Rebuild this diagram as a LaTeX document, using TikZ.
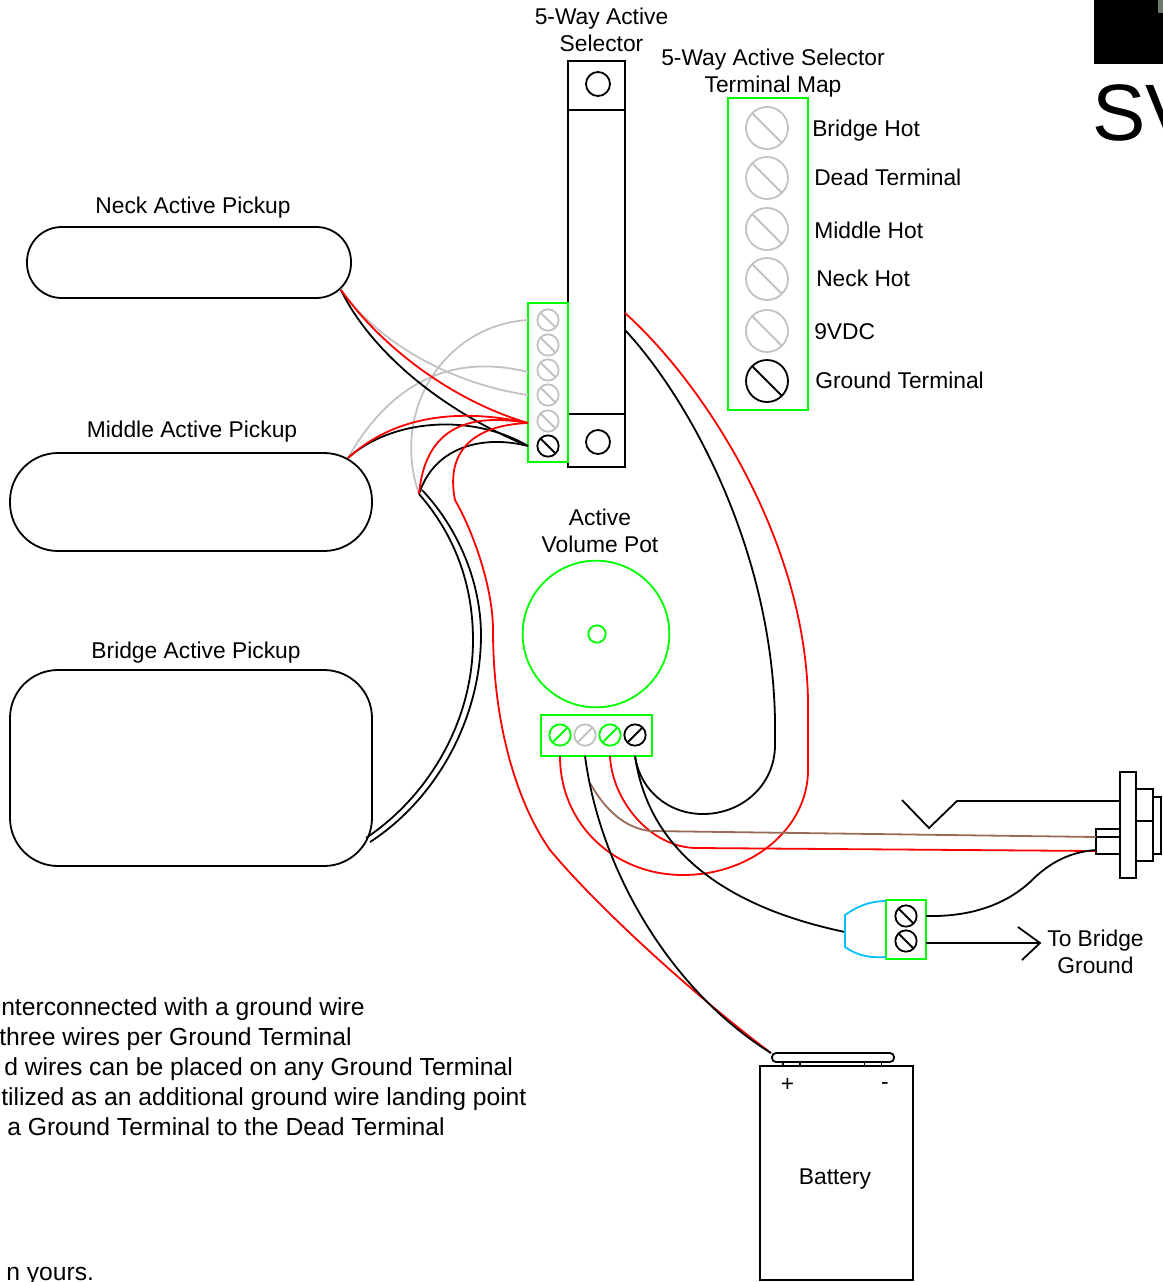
\documentclass[tikz,border=0pt]{standalone}
\usepackage{fontspec}
\setmainfont{Liberation Sans}

\definecolor{TermGreen}{rgb}{0.0,1.0,0.0}
\definecolor{TermGrey}{rgb}{0.76,0.76,0.76}
\definecolor{WireRed}{rgb}{1.0,0.0,0.0}
\definecolor{WireBrown}{rgb}{0.6,0.42,0.34}
\definecolor{WireBlue}{rgb}{0.0,0.75,1.0}
\definecolor{LogoGrey}{rgb}{0.42,0.48,0.42}

\tikzstyle{base}=[rectangle,
                    draw=black,
                    line width=1.35pt,
                    inner sep=0pt]
\tikzstyle{terminal}=[base, draw=TermGreen]
\tikzstyle{pickup}=[base]
\tikzstyle{label}=[inner sep=0pt,
                    align=center,
                    font=\fontsize{17.1}{20.2}\selectfont]
\tikzstyle{note}=[inner sep=0pt,
                    anchor=west,
                    text height=13pt,
                    text depth=4pt,
                    font=\fontsize{18.5}{21}\selectfont]
\tikzstyle{screw}=[circle, draw=black, line width=1.35pt, inner sep=0pt, minimum size=16pt]
\tikzstyle{screwback}=[screw, path picture={\draw[line width=1.35pt, draw=#1]
                    (path picture bounding box.north west) -- (path picture bounding box.south east);}]
\tikzstyle{screwfwd}=[screw, path picture={\draw[line width=1.35pt, draw=#1]
                    (path picture bounding box.north east) -- (path picture bounding box.south west);}]
\tikzstyle{wire}=[line width=1.35pt, draw=black]
\tikzstyle{redwire}=[wire, draw=WireRed]
\tikzstyle{greywire}=[wire, draw=TermGrey]

\begin{document}
\begin{tikzpicture}[x=0.75pt, y=-0.75pt]
      \useasboundingbox (0,0) rectangle (1163,1282);
      \clip (0,0) rectangle (1163,1282);

      % selector
      \node at (596.5, 264.0) (sel_body)   [base, minimum width=42.75pt, minimum height=304.5pt] {};
      \node at (596.5,  85.5) (sel_top)    [base, minimum width=42.75pt, minimum height=36.75pt] {};
      \node at (596.5, 440.5) (sel_bottom) [base, minimum width=42.75pt, minimum height=39.75pt] {};
      \node at (598.0,  84.0) (sel_hole_a) [screw, minimum size=18pt] {};
      \node at (598.0, 442.0) (sel_hole_b) [screw, minimum size=18pt] {};
      \node at (548.0, 382.5) (sel_term)   [terminal, minimum width=30pt, minimum height=119.25pt] {};
      \node at (548.0, 320.0) (sel_s1) [screwback=TermGrey, draw=TermGrey] {};
      \node at (548.0, 345.0) (sel_s2) [screwback=TermGrey, draw=TermGrey] {};
      \node at (548.0, 370.0) (sel_s3) [screwback=TermGrey, draw=TermGrey] {};
      \node at (548.0, 395.0) (sel_s4) [screwback=TermGrey, draw=TermGrey] {};
      \node at (548.0, 421.0) (sel_s5) [screwback=TermGrey, draw=TermGrey] {};
      \node at (548.0, 446.0) (sel_s6) [screwback=black] {};

      % terminal map
      \node at (768.0, 254.0) (map_box) [terminal, minimum width=60pt, minimum height=234pt] {};
      \node at (767.0, 128.0) (map_s1) [screwback=TermGrey, draw=TermGrey, minimum size=31.5pt] {};
      \node at (767.0, 178.0) (map_s2) [screwback=TermGrey, draw=TermGrey, minimum size=31.5pt] {};
      \node at (767.0, 229.0) (map_s3) [screwback=TermGrey, draw=TermGrey, minimum size=31.5pt] {};
      \node at (767.0, 279.0) (map_s4) [screwback=TermGrey, draw=TermGrey, minimum size=31.5pt] {};
      \node at (767.0, 331.0) (map_s5) [screwback=TermGrey, draw=TermGrey, minimum size=31.5pt] {};
      \node at (767.0, 381.0) (map_s6) [screwback=black, minimum size=31.5pt] {};
      \node at (812.0, 131.0) (map_l1) [label, anchor=west] {Bridge Hot};
      \node at (814.0, 177.0) (map_l2) [label, anchor=west] {Dead Terminal};
      \node at (814.0, 230.0) (map_l3) [label, anchor=west] {Middle Hot};
      \node at (816.0, 278.0) (map_l4) [label, anchor=west] {Neck Hot};
      \node at (814.0, 332.0) (map_l5) [label, anchor=west] {9VDC};
      \node at (815.0, 380.0) (map_l6) [label, anchor=west] {Ground Terminal};

      % pickups
      \node at (189.0, 262.5) (neck)   [pickup, rounded corners=26pt, minimum width=243pt, minimum height=53.25pt] {};
      \node at (191.0, 502.0) (middle) [pickup, rounded corners=36pt, minimum width=271.5pt, minimum height=73.5pt] {};
      \node at (191.0, 768.0) (bridge) [pickup, rounded corners=36pt, minimum width=271.5pt, minimum height=147pt] {};

      % pot
      \node at (596.0, 634.0) (pot)      [circle, draw=TermGreen, line width=1.35pt, inner sep=0pt, minimum size=110pt] {};
      \node at (597.0, 634.0) (pot_dot)  [circle, draw=TermGreen, line width=1.35pt, inner sep=0pt, minimum size=13pt] {};
      \node at (596.5, 735.5) (pot_term) [terminal, minimum width=83.25pt, minimum height=30.75pt] {};
      \node at (560.0, 735.0) (pot_s1) [screwfwd=TermGreen, draw=TermGreen] {};
      \node at (585.0, 735.0) (pot_s2) [screwfwd=TermGrey, draw=TermGrey] {};
      \node at (610.0, 735.0) (pot_s3) [screwfwd=TermGreen, draw=TermGreen] {};
      \node at (635.0, 735.0) (pot_s4) [screwfwd=black] {};

      % jack
      \node at (1128.0, 825.0) (jack_flange) [base, minimum width=12pt, minimum height=79.5pt] {};
      \node at (1144.5, 825.0) (jack_nut)    [base, minimum width=12.4pt, minimum height=54pt] {};
      \node at (1157.0, 825.5) (jack_end)    [base, minimum width=6pt, minimum height=42.75pt] {};
      \node at (1108.0, 841.5) (jack_lug)    [base, minimum width=18pt, minimum height=18.75pt] {};
      \draw[wire] (jack_nut.west |- 0,821) -- (jack_nut.east |- 0,821);
      \draw[wire] (jack_lug.west |- 0,837) -- (jack_lug.east |- 0,837);

      % ground block
      \node at (906.0, 929.5) (gnd_term) [terminal, minimum width=30pt, minimum height=44.25pt] {};
      \node at (906.0, 916.0) (gnd_s1) [screwback=black] {};
      \node at (906.0, 941.0) (gnd_s2) [screwback=black] {};

      % battery
      \node at (836.5, 1173.0) (battery)  [base, minimum width=114.75pt, minimum height=160.5pt] {};
      \node at (833.0, 1057.5) (bat_clip) [base, rounded corners=3pt, minimum width=91.5pt, minimum height=6.75pt] {};
      \node at (791.5, 1064.0) (bat_plus)  [base, minimum width=12.75pt, minimum height=3pt] {};
      \node at (873.0, 1064.0) (bat_minus) [base, minimum width=12.75pt, minimum height=3pt] {};

      % labels
      \node at (601.5,  30.0) (sel_label)  [label] {5-Way Active\\Selector};
      \node at (773.0,  73.0) (map_label)  [label] {5-Way Active Selector\\Terminal Map};
      \node at (193.0, 208.0) (neck_label)   [label] {Neck Active Pickup};
      \node at (192.0, 432.0) (middle_label) [label] {Middle Active Pickup};
      \node at (196.0, 653.0) (bridge_label) [label] {Bridge Active Pickup};
      \node at (600.0, 531.0) (pot_label)  [label] {Active\\Volume Pot};
      \node at (1095.5, 952.0) (gnd_label) [label] {To Bridge\\Ground};
      \node at (835.0, 1179.0) (bat_label) [label] {Battery};
      \node at (787.5, 1085.0) (bat_plus_l)  [label] {+};
      \node at (885.0, 1086.0) (bat_minus_l) [label] {-};
      \node at (1.0, 1009.0) (note_a) [note] {nterconnected with a ground wire};
      \node at (-1.0, 1039.0) (note_b) [note] {three wires per Ground Terminal};
      \node at (4.0, 1069.0) (note_c) [note] {d wires can be placed on any Ground Terminal};
      \node at (1.0, 1099.0) (note_d) [note] {tilized as an additional ground wire landing point};
      \node at (7.0, 1129.0) (note_e) [note] {a Ground Terminal to the Dead Terminal};
      \node at (6.0, 1274.0) (note_f) [note] {n yours.};

      % logo corner
      \node at (1128.5, 32.0) (logo_box)  [rectangle, fill=black, inner sep=0pt, minimum width=51.75pt, minimum height=48pt] {};
      \node at (1160.5, 6.5)  (logo_mark) [rectangle, fill=LogoGrey, inner sep=0pt, minimum width=3.75pt, minimum height=9.75pt] {};
      \node at (1092.0, 113.0) (logo_text) [inner sep=0pt, anchor=west, font=\fontsize{60}{60}\selectfont] {SV};

      % wire ends
      \coordinate (neck_lead)   at (341, 290);
      \coordinate (middle_lead) at (348, 458);
      \coordinate (junction_a)  at (419, 494);
      \coordinate (junction_b)  at (422, 490);
      \coordinate (bridge_a)    at (366, 838);
      \coordinate (bridge_b)    at (370, 842);
      \coordinate (sel_in1)  at (528, 320);
      \coordinate (sel_in3)  at (528, 372);
      \coordinate (sel_in4)  at (528, 395);
      \coordinate (sel_in5)  at (528, 423);
      \coordinate (sel_in6)  at (528, 446);
      \coordinate (sel_outr) at (625, 313);
      \coordinate (sel_outb) at (625, 330);
      \coordinate (pot_w1) at (560, 756);
      \coordinate (pot_w2) at (585, 756);
      \coordinate (pot_w3) at (610, 756);
      \coordinate (pot_w4) at (635, 756);
      \coordinate (brown_tap) at (590, 783);
      \coordinate (jack_w1) at (1096, 837);
      \coordinate (jack_w2) at (1096, 851);
      \coordinate (jack_w3) at (1096, 850);
      \coordinate (clip_w)  at (771, 1053);
      \coordinate (gnd_w1)  at (926, 916);
      \coordinate (gnd_w2)  at (926, 943);
      \coordinate (cap_a)   at (886, 901);
      \coordinate (cap_b)   at (886, 957);
      \coordinate (cap_w)   at (845, 932);

      % wires at the selector
      \draw[greywire] (neck_lead)   .. controls (385,350) and (460,385) .. (sel_in4);
      \draw[greywire] (middle_lead) .. controls (395,375) and (460,355) .. (sel_in3);
      \draw[greywire] (junction_a)  .. controls (390,410) and (445,325) .. (sel_in1);
      \draw[wire]     (neck_lead)   .. controls (370,350) and (440,410) .. (sel_in6);
      \draw[redwire]  (neck_lead)   .. controls (380,345) and (450,400) .. (sel_in5);
      \draw[wire]     (middle_lead) .. controls (390,420) and (470,412) .. (sel_in6);
      \draw[redwire]  (middle_lead) .. controls (395,415) and (460,408) .. (sel_in5);
      \draw[wire]     (junction_a)  .. controls (435,445) and (485,435) .. (sel_in6);
      \draw[redwire]  (junction_a)  .. controls (425,430) and (465,412) .. (sel_in5);

      % bridge pickup leads
      \draw[wire] (junction_a) .. controls (455,535) and (473,585) .. (473,640)
                               .. controls (473,720) and (430,795) .. (bridge_a);
      \draw[wire] (junction_b) .. controls (460,530) and (481,585) .. (481,635)
                               .. controls (481,720) and (435,800) .. (bridge_b);

      % selector to battery
      \draw[redwire] (sel_in5) .. controls (475,425) and (445,450) .. (455,500)
                               .. controls (475,535) and (493,590) .. (493,630)
                               .. controls (493,720) and (515,800) .. (550,850)
                               .. controls (600,910) and (700,1000) .. (clip_w);

      % selector to pot
      \draw[redwire] (sel_outr) .. controls (705,385) and (805,540) .. (808,700) -- (808,770)
                                .. controls (808,828) and (752,875) .. (683,875)
                                .. controls (615,875) and (560,825) .. (pot_w1);
      \draw[wire] (sel_outb) .. controls (690,400) and (772,550) .. (775,720) -- (775,745)
                             .. controls (775,785) and (742,814) .. (703,814)
                             .. controls (668,814) and (640,790) .. (pot_w4);

      % pot to jack and battery
      \draw[redwire] (pot_w3) .. controls (612,800) and (650,848) .. (697,848) -- (jack_w2);
      \draw[wire, draw=WireBrown] (brown_tap) .. controls (605,810) and (625,828) .. (650,831) -- (jack_w1);
      \draw[wire] (pot_w2) .. controls (600,870) and (670,990) .. (clip_w);
      \draw[wire] (pot_w4) .. controls (650,860) and (740,910) .. (cap_w);

      % ground block wires
      \draw[wire, draw=WireBlue] (cap_a) .. controls (870,901) and (858,906) .. (845,915) -- (845,947)
                                 .. controls (858,956) and (870,958) .. (cap_b);
      \draw[wire] (gnd_w1) .. controls (970,917) and (1005,905) .. (1030,882)
                           .. controls (1050,862) and (1070,852) .. (jack_w3);
      \coordinate (gnd_tip) at (1040, 943);
      \draw[wire] (gnd_w2) -- (gnd_tip);
      \draw[wire] (1018,927) -- (gnd_tip) -- (1022,960);

      % jack tip
      \coordinate (tip_a) at (1120, 801);
      \draw[wire] (tip_a) -- (957,801) -- (929,828) -- (902,800);

\end{tikzpicture}
\end{document}
